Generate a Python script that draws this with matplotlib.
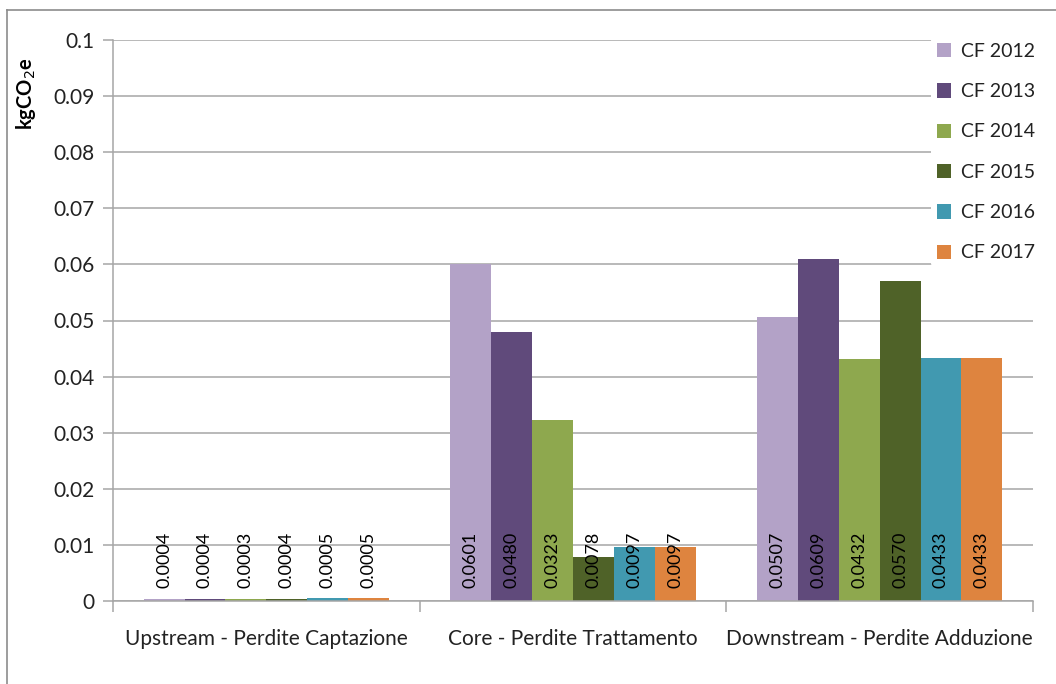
import matplotlib
matplotlib.use("Agg")
import matplotlib.pyplot as plt
from matplotlib.lines import Line2D
import numpy as np

categories = ["Upstream - Perdite Captazione", "Core - Perdite Trattamento", "Downstream - Perdite Adduzione"]
series = ["CF 2012", "CF 2013", "CF 2014", "CF 2015", "CF 2016", "CF 2017"]
cf2012 = [0.0004, 0.0601, 0.0507]
cf2013 = [0.0004, 0.0480, 0.0609]
cf2014 = [0.0003, 0.0323, 0.0432]
cf2015 = [0.0004, 0.0078, 0.0570]
cf2016 = [0.0005, 0.0097, 0.0433]
cf2017 = [0.0005, 0.0097, 0.0433]
values = [cf2012, cf2013, cf2014, cf2015, cf2016, cf2017]
colors = ["#B3A2C7", "#604A7B", "#8EA84E", "#4F6228", "#4199B0", "#DE843F"]
yticks = [0, 0.01, 0.02, 0.03, 0.04, 0.05, 0.06, 0.07, 0.08, 0.09, 0.1]
ytick_labels = ["0", "0.01", "0.02", "0.03", "0.04", "0.05", "0.06", "0.07", "0.08", "0.09", "0.1"]

plt.rcParams['font.family'] = ['Lato', 'DejaVu Sans']

fig = plt.figure(figsize=(10.56, 6.84), dpi=100)
ax = fig.add_axes([113/1056, 1-601/684, (1033-113)/1056, (601-40)/684])

n = len(series)
group_w = 0.8
bw = group_w / n
x = np.arange(len(categories))
for i, (s, v, c) in enumerate(zip(series, values, colors)):
    pos = x - group_w/2 + bw*(i+0.5)
    ax.bar(pos, v, width=bw, color=c, label=s, zorder=2)
    for p, val in zip(pos, v):
        ax.text(p, 0.0023, f"{val:.4f}", rotation=90, ha='center', va='bottom',
                fontsize=13, color='black', zorder=3)

ax.set_xlim(-0.5, len(categories)-0.5)
ax.set_ylim(0, 0.1)
ax.set_yticks(yticks)
ax.set_yticklabels(ytick_labels, fontsize=15, color='#222222')
ax.yaxis.grid(True, color='#A6A6A6', linewidth=1.1, zorder=0)
ax.set_axisbelow(True)

ax.set_xticks(x)
ax.set_xticklabels(categories, fontsize=15, color='#222222')
ax.tick_params(axis='x', length=0, pad=20)
ax.set_xticks(np.arange(len(categories)+1) - 0.5, minor=True)
ax.tick_params(axis='x', which='minor', length=8, color='#A6A6A6', width=1.1)
ax.tick_params(axis='y', length=7, color='#A6A6A6', width=1.1, pad=6)

for side in ['top', 'right']:
    ax.spines[side].set_visible(False)
for side in ['left', 'bottom']:
    ax.spines[side].set_color('#A6A6A6')
    ax.spines[side].set_linewidth(1.1)

ax.set_ylabel("kgCO$_2$e", fontsize=14.5, fontweight='bold')
ax.yaxis.set_label_coords(-0.081, 0.905)

leg = fig.legend(loc='upper left', bbox_to_anchor=(931/1056, 1-37/684), frameon=True,
                 fontsize=14, handlelength=0.75, handleheight=0.75, handletextpad=0.5,
                 labelspacing=1.2, borderpad=0.3, borderaxespad=0)
leg.get_frame().set_edgecolor('none')
leg.get_frame().set_facecolor('white')
leg.get_frame().set_alpha(1)
for t in leg.get_texts():
    t.set_color('#222222')

# outer border (left and top visible)
fig.add_artist(Line2D([7/1056, 7/1056], [0, 1-10/684], color='#8C8C8C', linewidth=1.2, transform=fig.transFigure))
fig.add_artist(Line2D([7/1056, 1], [1-10/684, 1-10/684], color='#8C8C8C', linewidth=1.2, transform=fig.transFigure))

fig.savefig("out.png", dpi=100)
